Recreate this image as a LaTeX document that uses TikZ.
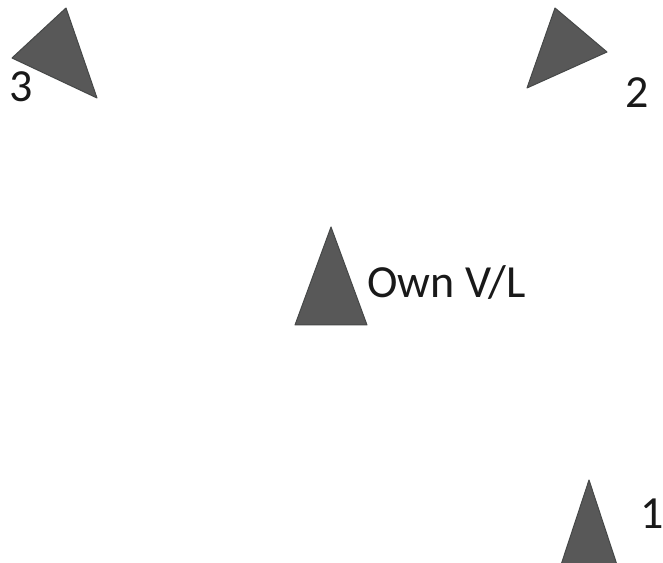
\documentclass[tikz,border=0pt]{standalone}
\usepackage{fontspec}
\setmainfont{Carlito}
\definecolor{shipfill}{RGB}{88,88,88}
\definecolor{shipedge}{RGB}{70,72,72}
\begin{document}
\begin{tikzpicture}[x=1pt,y=1pt,
  ship/.style={fill=shipfill,draw=shipedge,line width=1pt,line join=round},
  lbl/.style={inner sep=0pt,anchor=base,font=\fontsize{46}{50}\selectfont,text=black!90}]
\useasboundingbox (0,0) rectangle (663,562);
% ship 3
\draw[ship] (66,554) -- (12,504) -- (97,464) -- cycle;
\node[lbl] (l3) at (21.5,460) {3};
% ship 2
\draw[ship] (555,554) -- (607,510) -- (527,474) -- cycle;
\node[lbl] (l2) at (637.5,454) {2};
% own vessel
\draw[ship] (331,335) -- (295,237) -- (367,237) -- cycle;
\node[lbl,anchor=base west] (own) at (367,264) {Own V/L};
% ship 1
\begin{scope}
\clip (0,0) rectangle (663,562);
\draw[ship] (589,82) -- (558,-12) -- (620,-12) -- cycle;
\end{scope}
\node[lbl] (l1) at (652,34) {1};
\end{tikzpicture}
\end{document}
